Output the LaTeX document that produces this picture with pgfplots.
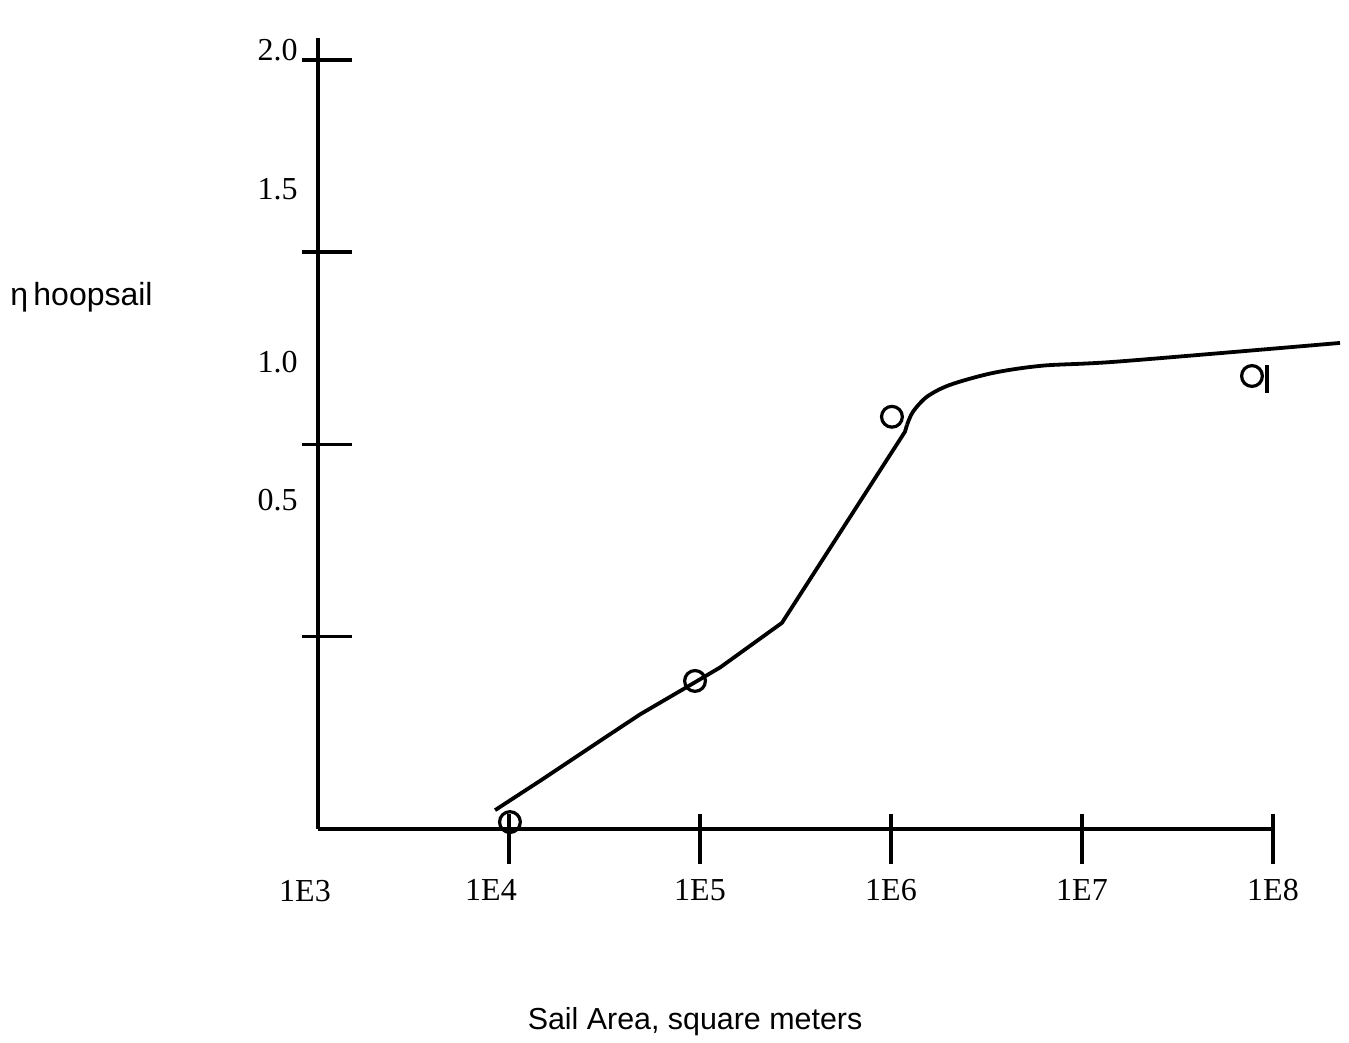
\documentclass[border=0pt]{standalone}
\usepackage{fontspec}
\setmainfont{Liberation Serif}
\setsansfont{Liberation Sans}
\usepackage{pgfplots}
\pgfplotsset{compat=1.18}
\begin{document}
\begin{tikzpicture}
\useasboundingbox (-159pt,-107pt) rectangle (515.5pt,414.5pt);
\begin{axis}[
  scale only axis,
  width=477.5pt, height=395.5pt,
  xmin=3, xmax=8, ymin=0, ymax=2.057,
  clip=false,
  axis x line=bottom, axis y line=left,
  axis line style={line width=1.7pt, -},
  xtick={4,5,6,7,8},
  xticklabels={\hspace{-18pt}\textrm{1E4},\textrm{1E5},\textrm{1E6},\textrm{1E7},\textrm{1E8}},
  extra x ticks={3},
  extra x tick labels={\textrm{1E3}},
  extra x tick style={major tick length=0pt, xticklabel style={yshift=-13pt, xshift=-6.5pt}},
  ytick={0.5,1,1.5,2},
  yticklabels={},
  tick align=center,
  major tick length=25pt,
  every tick/.style={line width=1.7pt, black},
  x tick style={yshift=-5pt},
  y tick style={xshift=4.5pt},
  xticklabel style={font=\fontsize{16}{18}\selectfont\rmfamily, yshift=-9pt},
]
\addplot[black, line width=1.9pt, line join=round] coordinates {
  (3.927,0.049) (4.162,0.125) (4.461,0.224) (4.686,0.298) (4.948,0.374)
  (5.105,0.420) (5.429,0.536) (6.073,1.033) (6.084,1.051)
};
\addplot[black, line width=1.9pt, smooth] coordinates {
  (6.084,1.051) (6.115,1.085) (6.188,1.124) (6.309,1.155) (6.534,1.186)
  (6.796,1.205) (7.199,1.216) (8.351,1.264)
};
\addplot[only marks, mark=o, mark size=5.2pt, mark options={line width=1.6pt, black}] coordinates {
  (4.005,0.018) (4.974,0.385) (6.005,1.072) (7.890,1.178)
};
\addplot[only marks, mark=|, mark size=7pt, mark options={line width=1.6pt, black}] coordinates {
  (7.969,1.170)
};
\node[anchor=east, inner sep=0pt, font=\fontsize{16}{18}\selectfont\rmfamily] at (axis cs:2.895,2.026) {2.0};
\node[anchor=east, inner sep=0pt, font=\fontsize{16}{18}\selectfont\rmfamily] at (axis cs:2.895,1.665) {1.5};
\node[anchor=east, inner sep=0pt, font=\fontsize{16}{18}\selectfont\rmfamily] at (axis cs:2.895,1.215) {1.0};
\node[anchor=east, inner sep=0pt, font=\fontsize{16}{18}\selectfont\rmfamily] at (axis cs:2.895,0.856) {0.5};
\node[anchor=west, font=\fontsize{16}{18}\selectfont\sffamily, inner sep=0pt] at (axis cs:1.387,1.384) {η\,hoopsail};
\node[font=\fontsize{15.2}{17}\selectfont\sffamily] at (axis cs:4.974,-0.502) {Sail Area, square meters};
\end{axis}
\end{tikzpicture}
\end{document}
